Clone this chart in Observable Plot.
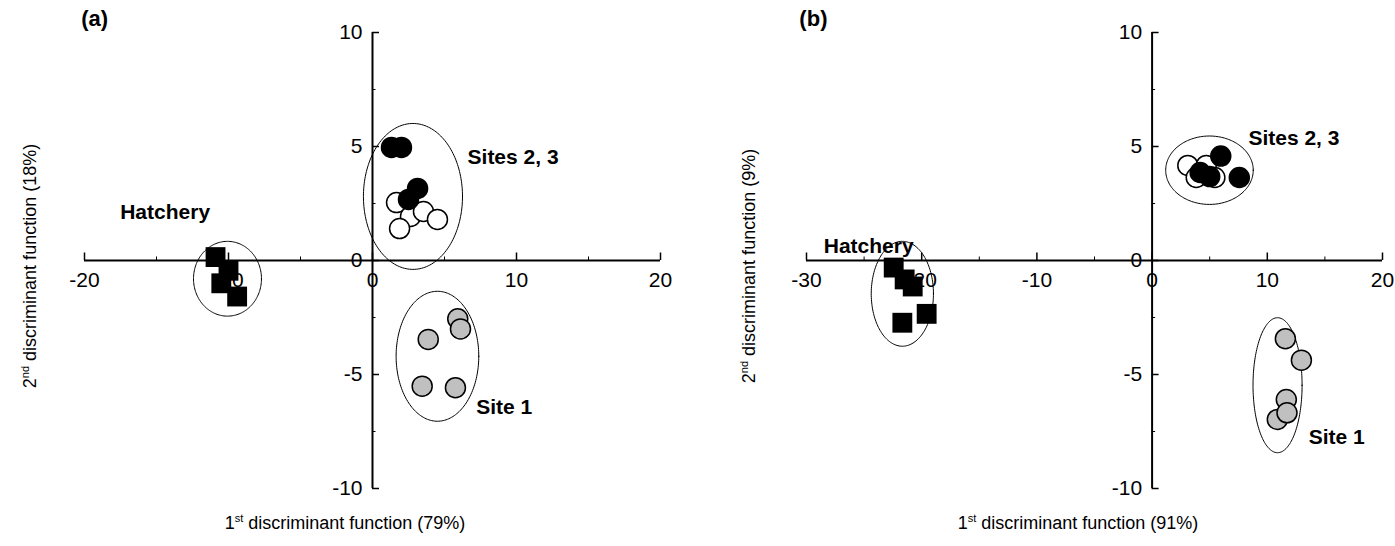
<!DOCTYPE html>
<html><head><meta charset="utf-8">
<script src="https://cdn.jsdelivr.net/npm/d3@7"></script>
<script src="https://cdn.jsdelivr.net/npm/@observablehq/plot@0.6"></script>
<style>
body{margin:0;background:#fff;}
#wrap{display:flex;width:1395px;height:546px;}
#wrap svg{display:block;flex:none;}
</style></head><body><div id="wrap"></div>
<script>
// ---------- Panel (a) ----------
const aHatchery = [[-10.9,0.15],[-10.0,-0.45],[-10.5,-1.0],[-9.4,-1.58]];
const aSitesOpen = [[1.67,2.54],[2.64,1.93],[3.54,2.15],[4.51,1.8],[1.88,1.4]];
const aSitesFilled = [[1.32,4.96],[2.01,4.96],[3.13,3.16],[2.5,2.68]];
const aSite1 = [[5.92,-2.56],[6.11,-3.0],[3.87,-3.46],[3.45,-5.51],[5.76,-5.58]];
const aEllipses = [[-10.07,-0.8,2.36,1.64],[2.81,2.81,3.44,3.2],[4.51,-4.2,2.87,2.85]];
const aXTicks = [-20,-10,0,10,20];
const aXMinor = [-15,-5,5,15];
// ---------- Panel (b) ----------
const bHatchery = [[-22.43,-0.31],[-21.48,-0.83],[-20.78,-1.14],[-21.68,-2.73],[-19.57,-2.34]];
const bSitesOpen = [[3.1,4.17],[3.83,3.64],[4.7,4.17],[5.45,3.64]];
const bSitesFilled = [[4.17,3.86],[5.0,3.68],[5.96,4.58],[7.57,3.64]];
const bSite1 = [[11.57,-3.43],[12.96,-4.37],[11.65,-6.1],[10.87,-6.97],[11.71,-6.68]];
const bEllipses = [[-21.68,-1.46,2.7,2.3],[4.98,3.96,3.8,1.5],[10.89,-5.47,2.13,2.96]];
const bXTicks = [-30,-20,-10,0,10,20];
const bXMinor = [-25,-15,-5,5,15];
// shared
const yTicks = [-10,-5,0,5,10];
const yMinor = [-7.5,-2.5,2.5,7.5];

const FONT = "'Liberation Sans', Arial, sans-serif";

function panel(cfg){
  const pxPerX = (cfg.range[1]-cfg.range[0])/(cfg.domain[1]-cfg.domain[0]);
  const pxPerY = (488-32)/20;
  const ell = cfg.ellipses.flatMap((e,i)=>d3.range(181).map(k=>{const t=k/180*2*Math.PI;return {g:i,x:e[0]+e[2]*Math.cos(t),y:e[1]+e[3]*Math.sin(t)};}));
  const P = a => a.map(([x,y])=>({x,y}));
  const dotOpts = {x:"x",y:"y",r:10,stroke:"black",strokeWidth:1.5};
  const labelOpts = {fontSize:21,fontWeight:"bold",fill:"black",fontFamily:FONT};
  const svg = Plot.plot({
    width:697,height:546,margin:0,
    x:{domain:cfg.domain,range:cfg.range,axis:null},
    y:{domain:[-10,10],range:[488,32],axis:null},
    style:{fontFamily:FONT,background:"white",overflow:"visible"},
    marks:[
      Plot.ruleY([0],{x1:cfg.domain[0],x2:cfg.domain[1],stroke:"black",strokeWidth:2}),
      Plot.ruleX([0],{y1:-10,y2:10,stroke:"black",strokeWidth:2}),
      Plot.ruleX(cfg.xTicks,{x:d=>d,y1:0,y2:7.5/pxPerY,stroke:"black",strokeWidth:1.5}),
      Plot.ruleX(cfg.xMinor,{x:d=>d,y1:0,y2:3.5/pxPerY,stroke:"black",strokeWidth:1}),
      Plot.ruleY(yTicks,{y:d=>d,x1:0,x2:7/pxPerX,stroke:"black",strokeWidth:1.5}),
      Plot.ruleY(yMinor,{y:d=>d,x1:0,x2:3.5/pxPerX,stroke:"black",strokeWidth:1}),
      Plot.text(cfg.xTicks,{x:d=>d,y:0,dy:20,text:d=>String(d),fontSize:21,fill:"black"}),
      Plot.text(yTicks,{x:0,y:d=>d,dx:-10,textAnchor:"end",text:d=>String(d),fontSize:21,fill:"black"}),
      Plot.line(ell,{x:"x",y:"y",z:"g",curve:"linear-closed",stroke:"black",strokeWidth:1}),
      Plot.dot(P(cfg.open),{...dotOpts,fill:"white"}),
      Plot.dot(P(cfg.filled),{...dotOpts,fill:"black"}),
      Plot.dot(P(cfg.site1),{...dotOpts,fill:"#c0c0c0"}),
      Plot.dot(P(cfg.hatchery),{x:"x",y:"y",symbol:"square",r:11.2,fill:"black",stroke:"none"}),
      Plot.text([cfg.lab.hatch],{x:d=>d[0],y:d=>d[1],text:()=>"Hatchery",...labelOpts}),
      Plot.text([cfg.lab.sites],{x:d=>d[0],y:d=>d[1],text:()=>"Sites 2, 3",textAnchor:"start",...labelOpts}),
      Plot.text([cfg.lab.site1],{x:d=>d[0],y:d=>d[1],text:()=>"Site 1",textAnchor:"start",...labelOpts}),
      Plot.text([cfg.lab.panel],{x:d=>d[0],y:d=>d[1],text:()=>cfg.panelName,...labelOpts,fontSize:22})
    ]
  });
  const s = d3.select(svg);
  const xt = s.append("text").attr("x",cfg.xTitleX).attr("y",529).attr("text-anchor","middle")
    .style("font-size","18px").style("font-family",FONT).attr("fill","black");
  xt.append("tspan").text("1");
  xt.append("tspan").attr("dy",-7).style("font-size","11px").text("st");
  xt.append("tspan").attr("dy",7).text(" discriminant function ("+cfg.xPct+")");
  const yt = s.append("text").attr("transform",`translate(${cfg.yTitleX},266) rotate(-90)`).attr("text-anchor","middle")
    .style("font-size","18px").style("font-family",FONT).attr("fill","black");
  yt.append("tspan").text("2");
  yt.append("tspan").attr("dy",-7).style("font-size","11px").text("nd");
  yt.append("tspan").attr("dy",7).text(" discriminant function ("+cfg.yPct+")");
  return svg;
}

const wrap = document.getElementById("wrap");
wrap.appendChild(panel({
  domain:[-20,20],range:[84,660],xTicks:aXTicks,xMinor:aXMinor,
  ellipses:aEllipses,open:aSitesOpen,filled:aSitesFilled,site1:aSite1,hatchery:aHatchery,
  lab:{hatch:[-14.4,2.1],sites:[6.6,4.52],site1:[7.2,-6.45],panel:[-19.3,10.6]},panelName:"(a)",
  xTitleX:345,yTitleX:36,xPct:"79%",yPct:"18%"
}));
wrap.appendChild(panel({
  domain:[-30,20],range:[109,685],xTicks:bXTicks,xMinor:bXMinor,
  ellipses:bEllipses,open:bSitesOpen,filled:bSitesFilled,site1:bSite1,hatchery:bHatchery,
  lab:{hatch:[-24.6,0.61],sites:[8.36,5.35],site1:[13.6,-7.76],panel:[-29.4,10.6]},panelName:"(b)",
  xTitleX:381,yTitleX:58,xPct:"91%",yPct:"9%"
}));
</script></body></html>
